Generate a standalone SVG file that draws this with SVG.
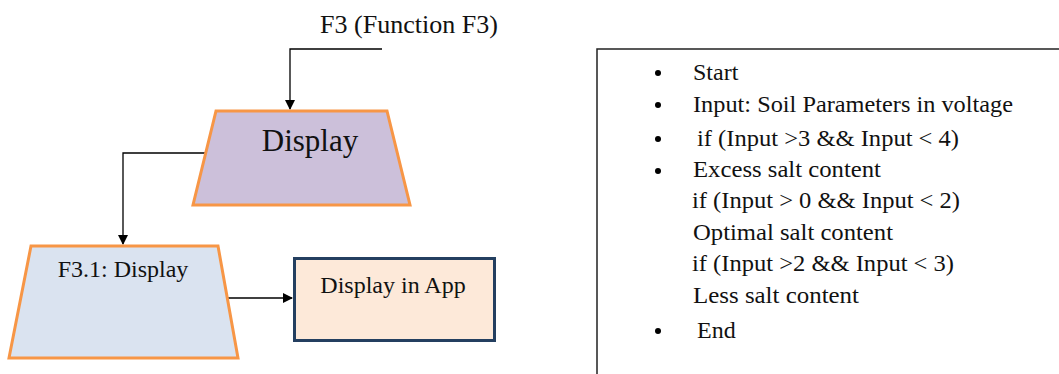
<svg xmlns="http://www.w3.org/2000/svg" width="1059" height="374" viewBox="0 0 1059 374">
  <style>
    text { font-family: "Liberation Serif", "Times New Roman", serif; fill: #111; }
    .trap { stroke: #f79646; stroke-width: 3; stroke-linejoin: miter; }
    .wire { fill: none; stroke: #000; stroke-width: 1.3; }
    .algo { font-size: 24px; }
  </style>
  <defs>
    <marker id="arrow" markerWidth="10" markerHeight="10" refX="9" refY="5" orient="auto" markerUnits="userSpaceOnUse">
      <path d="M0,0 L10,5 L0,10 Z" fill="#000"/>
    </marker>
  </defs>

  <!-- entry label -->
  <text x="320" y="33" font-size="26" textLength="178" lengthAdjust="spacingAndGlyphs">F3 (Function F3)</text>

  <!-- connectors -->
  <g id="connectors">
    <path class="wire" d="M382,49 L290,49 L290,109" marker-end="url(#arrow)"/>
    <path class="wire" d="M206,153 L123,153 L123,244" marker-end="url(#arrow)"/>
    <path class="wire" d="M228,298 L292,298" marker-end="url(#arrow)"/>
  </g>

  <!-- Display (top) -->
  <g id="display">
    <polygon class="trap" points="216,111 387,111 410,205 193,205" fill="#ccc0da"/>
    <text x="310" y="151" font-size="31" text-anchor="middle">Display</text>
  </g>

  <!-- F3.1 Display -->
  <g id="f31-display">
    <polygon class="trap" points="31,246 218,246 238,358 9,358" fill="#dae3f0"/>
    <text x="123" y="277" font-size="24" text-anchor="middle">F3.1: Display</text>
  </g>

  <!-- Display in App -->
  <g id="display-in-app">
    <rect x="294.5" y="258.5" width="200" height="82" fill="#fde9d9" stroke="#243f60" stroke-width="3"/>
    <text x="393" y="293" font-size="24" text-anchor="middle">Display in App</text>
  </g>

  <!-- algorithm panel -->
  <g id="algorithm">
    <rect x="597" y="49" width="470" height="340" fill="#fff" stroke="#222" stroke-width="1.5"/>
    <g fill="#000">
      <circle cx="658" cy="73" r="3"/>
      <circle cx="658" cy="105" r="3"/>
      <circle cx="658" cy="139" r="3"/>
      <circle cx="658" cy="171" r="3"/>
      <circle cx="658" cy="331" r="3"/>
    </g>
    <text class="algo" x="693" y="80">Start</text>
    <text class="algo" x="693" y="112" textLength="320" lengthAdjust="spacingAndGlyphs">Input: Soil Parameters in voltage</text>
    <text class="algo" x="697" y="146" textLength="262" lengthAdjust="spacingAndGlyphs">if (Input &gt;3 &amp;&amp; Input &lt; 4)</text>
    <text class="algo" x="693" y="177" textLength="188" lengthAdjust="spacingAndGlyphs">Excess salt content</text>
    <text class="algo" x="692" y="208" textLength="268" lengthAdjust="spacingAndGlyphs">if (Input &gt; 0 &amp;&amp; Input &lt; 2)</text>
    <text class="algo" x="693" y="240" textLength="200" lengthAdjust="spacingAndGlyphs">Optimal salt content</text>
    <text class="algo" x="692" y="271" textLength="262" lengthAdjust="spacingAndGlyphs">if (Input &gt;2 &amp;&amp; Input &lt; 3)</text>
    <text class="algo" x="693" y="303" textLength="166" lengthAdjust="spacingAndGlyphs">Less salt content</text>
    <text class="algo" x="697" y="338">End</text>
  </g>
</svg>
